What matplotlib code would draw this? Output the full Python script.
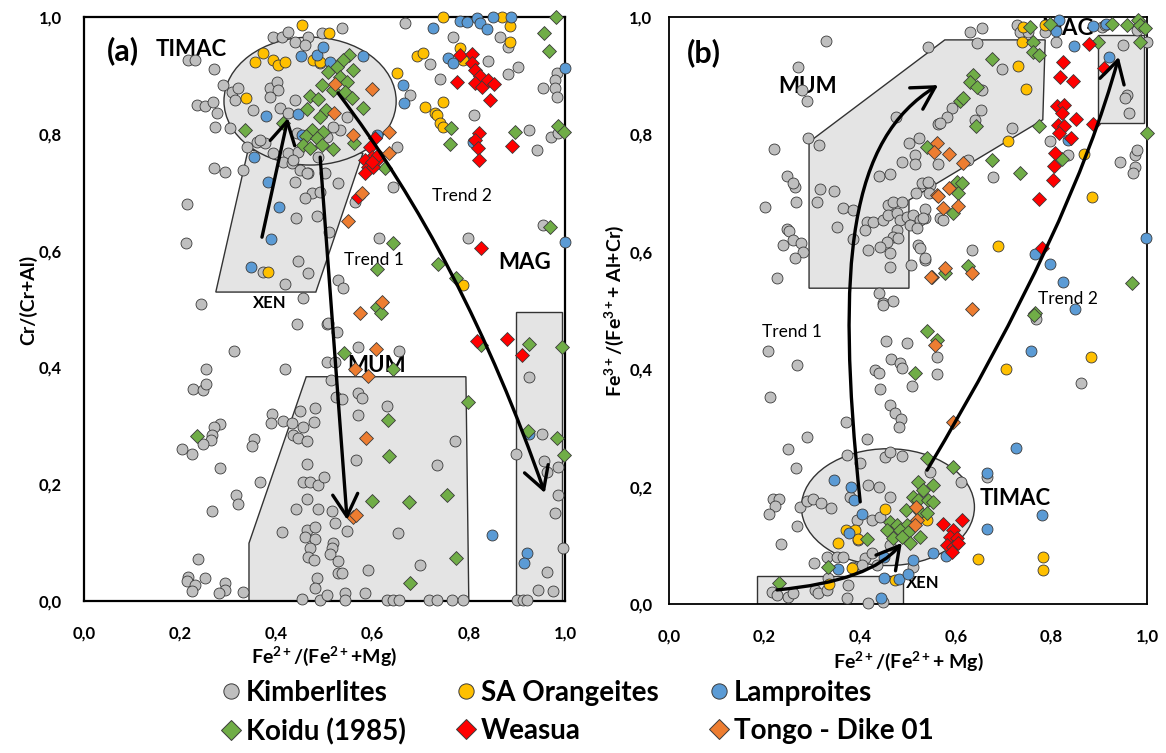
import matplotlib
matplotlib.use("Agg")
import matplotlib.pyplot as plt
import numpy as np
from matplotlib.patches import Ellipse, Polygon, Rectangle, FancyArrowPatch
from matplotlib.path import Path
from matplotlib.lines import Line2D
from matplotlib.ticker import FuncFormatter

plt.rcParams["font.family"] = ["Lato", "DejaVu Sans"]
plt.rcParams["font.weight"] = "bold"
plt.rcParams["mathtext.fontset"] = "custom"
plt.rcParams["mathtext.rm"] = "Lato:bold"
plt.rcParams["mathtext.it"] = "Lato:bold"
plt.rcParams["mathtext.bf"] = "Lato:bold"

# ---------------- data : panel (a)  Cr/(Cr+Al) vs Fe2+/(Fe2+ + Mg)
kimb_a = [
    (0.393, 0.966), (0.412, 0.966), (0.424, 0.974), (0.439, 0.957), (0.466, 0.966), (0.495, 0.973),
    (0.216, 0.926), (0.231, 0.926), (0.270, 0.911), (0.289, 0.884), (0.308, 0.872), (0.320, 0.878),
    (0.314, 0.858), (0.387, 0.878), (0.401, 0.889), (0.403, 0.875), (0.387, 0.863), (0.235, 0.849),
    (0.252, 0.848), (0.268, 0.854), (0.277, 0.836), (0.272, 0.812), (0.304, 0.810), (0.351, 0.841),
    (0.407, 0.844), (0.339, 0.777), (0.360, 0.786), (0.376, 0.784), (0.393, 0.767), (0.424, 0.767),
    (0.445, 0.769), (0.414, 0.752), (0.432, 0.750), (0.449, 0.738), (0.466, 0.733), (0.270, 0.741),
    (0.293, 0.735), (0.331, 0.738), (0.439, 0.717), (0.474, 0.699), (0.491, 0.700), (0.459, 0.690),
    (0.214, 0.680), (0.441, 0.656), (0.484, 0.659), (0.212, 0.613), (0.445, 0.582), (0.466, 0.562),
    (0.372, 0.563), (0.418, 0.543), (0.455, 0.519), (0.243, 0.509),
    (0.667, 0.990), (0.536, 0.981), (0.719, 0.920), (0.678, 0.866), (0.651, 0.777), (0.642, 0.709),
    (0.528, 0.716), (0.547, 0.829), (0.439, 0.858), (0.491, 0.921), (0.459, 0.952), (0.424, 0.836),
    (0.443, 0.801), (0.435, 0.755), (0.486, 0.760), (0.505, 0.795), (0.532, 0.807), (0.518, 0.812),
    (0.501, 0.733), (0.464, 0.733), (0.366, 0.789),
    (0.767, 0.966), (0.865, 0.966), (0.881, 0.949), (0.840, 0.925), (0.740, 0.894), (0.881, 0.902),
    (0.902, 0.914), (0.983, 0.904), (0.979, 0.892), (0.979, 0.878), (0.983, 0.863), (0.954, 0.878),
    (0.811, 0.832), (0.925, 0.807), (0.971, 0.795), (0.985, 0.801), (0.942, 0.772), (0.563, 0.683),
    (0.509, 0.632), (0.613, 0.622), (0.798, 0.622), (0.954, 0.644), (0.528, 0.550), (0.538, 0.536),
    (0.443, 0.474), (0.505, 0.474), (0.312, 0.428), (0.418, 0.397), (0.254, 0.397), (0.505, 0.409),
    (0.227, 0.363), (0.247, 0.361), (0.254, 0.372), (0.391, 0.320), (0.389, 0.305), (0.414, 0.308),
    (0.432, 0.305), (0.449, 0.325), (0.480, 0.330), (0.478, 0.307), (0.455, 0.298), (0.435, 0.284),
    (0.445, 0.279), (0.464, 0.274), (0.283, 0.303), (0.270, 0.298), (0.266, 0.284), (0.264, 0.276),
    (0.247, 0.269), (0.204, 0.260), (0.225, 0.252), (0.353, 0.277), (0.349, 0.265), (0.283, 0.228),
    (0.464, 0.235), (0.366, 0.204), (0.455, 0.204), (0.470, 0.204), (0.486, 0.199), (0.499, 0.212),
    (0.316, 0.182), (0.320, 0.166), (0.464, 0.175), (0.441, 0.158), (0.486, 0.158), (0.266, 0.154),
    (0.412, 0.118), (0.464, 0.122), (0.480, 0.127), (0.459, 0.110), (0.480, 0.106), (0.470, 0.091),
    (0.466, 0.075), (0.478, 0.070), (0.237, 0.072), (0.216, 0.041), (0.214, 0.034), (0.231, 0.027),
    (0.225, 0.017), (0.252, 0.039), (0.293, 0.031), (0.293, 0.019), (0.281, 0.014), (0.331, 0.015),
    (0.484, 0.039), (0.480, 0.022), (0.453, 0.003), (0.491, 0.002), (0.505, 0.010),
    (0.507, 0.476), (0.526, 0.461), (0.570, 0.435), (0.655, 0.428), (0.522, 0.409), (0.514, 0.378),
    (0.524, 0.349), (0.536, 0.346), (0.570, 0.356), (0.578, 0.348), (0.630, 0.334), (0.570, 0.318),
    (0.771, 0.274), (0.565, 0.241), (0.734, 0.233), (0.516, 0.154), (0.522, 0.134), (0.547, 0.120),
    (0.653, 0.116), (0.518, 0.099), (0.516, 0.091), (0.511, 0.080), (0.528, 0.068), (0.528, 0.048),
    (0.536, 0.048), (0.590, 0.053), (0.699, 0.062), (0.584, 0.014), (0.543, 0.014), (0.543, 0.002),
    (0.630, 0.002), (0.642, 0.002), (0.655, 0.002), (0.717, 0.002), (0.734, 0.002), (0.765, 0.002),
    (0.788, 0.002), (0.900, 0.002), (0.913, 0.002), (0.921, 0.002),
    (0.925, 0.384), (0.952, 0.286), (0.898, 0.252), (0.956, 0.240), (0.963, 0.221), (0.985, 0.229),
    (0.985, 0.182), (0.979, 0.151), (0.996, 0.091), (0.963, 0.050), (0.944, 0.019), (0.975, 0.017),
]
sa_a = [
    (0.453, 0.986), (0.356, 0.923), (0.372, 0.938), (0.393, 0.926), (0.403, 0.918), (0.418, 0.923),
    (0.476, 0.926), (0.491, 0.923), (0.337, 0.861), (0.383, 0.563), (0.509, 0.973), (0.692, 0.933),
    (0.705, 0.938), (0.651, 0.904), (0.709, 0.846), (0.730, 0.836), (0.746, 1.000), (0.869, 1.000),
    (0.886, 0.985), (0.886, 0.957), (0.782, 0.947), (0.788, 0.926), (0.746, 0.854), (0.734, 0.832),
    (0.740, 0.818), (0.746, 0.812), (0.788, 0.541),
]
lamp_a = [
    (0.451, 0.933), (0.484, 0.935), (0.378, 0.830), (0.445, 0.834), (0.453, 0.798), (0.353, 0.760),
    (0.383, 0.717), (0.405, 0.675), (0.389, 0.620), (0.347, 0.572), (0.580, 0.933), (0.726, 0.981),
    (0.497, 0.949), (0.511, 0.923), (0.663, 0.884), (0.665, 0.853), (0.609, 0.798), (0.782, 0.993),
    (0.796, 0.991), (0.817, 0.998), (0.823, 0.990), (0.838, 0.979), (0.850, 1.000), (0.888, 1.000),
    (0.757, 0.930), (0.767, 0.921), (1.000, 0.913), (1.000, 0.615), (0.809, 0.786), (0.925, 0.286),
    (0.848, 0.113), (0.921, 0.082), (0.915, 0.065),
]
koidu_a = [
    (0.551, 0.935), (0.538, 0.926), (0.526, 0.914), (0.507, 0.906), (0.559, 0.909), (0.532, 0.897),
    (0.547, 0.889), (0.495, 0.884), (0.518, 0.875), (0.543, 0.872), (0.557, 0.861), (0.580, 0.844),
    (0.470, 0.865), (0.486, 0.860), (0.464, 0.842), (0.503, 0.841), (0.491, 0.829), (0.414, 0.818),
    (0.335, 0.807), (0.474, 0.807), (0.497, 0.803), (0.462, 0.796), (0.484, 0.793), (0.455, 0.781),
    (0.495, 0.781), (0.470, 0.776), (0.518, 0.774), (0.561, 0.784), (0.626, 0.741),
    (0.981, 1.000), (0.956, 0.973), (0.967, 0.942), (0.985, 0.813), (0.998, 0.803), (0.896, 0.803),
    (0.761, 0.783), (0.763, 0.810), (0.642, 0.613), (0.736, 0.577), (0.773, 0.553), (0.969, 0.640),
    (0.609, 0.568), (0.609, 0.503), (0.617, 0.493), (0.235, 0.283),
    (0.541, 0.425), (0.642, 0.397), (0.798, 0.341), (0.632, 0.310), (0.634, 0.248), (0.599, 0.171),
    (0.676, 0.170), (0.755, 0.182), (0.773, 0.074), (0.678, 0.031), (0.925, 0.440), (0.994, 0.435),
    (0.923, 0.291), (0.983, 0.279), (0.998, 0.250), (0.825, 0.438),
]
weasua_a = [
    (0.605, 0.793), (0.595, 0.777), (0.599, 0.760), (0.609, 0.755), (0.584, 0.755), (0.590, 0.743),
    (0.601, 0.743), (0.584, 0.733), (0.611, 0.764), (0.599, 0.752), (0.570, 0.692),
    (0.782, 0.935), (0.807, 0.937), (0.807, 0.921), (0.813, 0.909), (0.823, 0.899), (0.813, 0.887),
    (0.827, 0.880), (0.840, 0.892), (0.852, 0.885), (0.775, 0.889), (0.844, 0.858), (0.821, 0.801),
    (0.813, 0.789), (0.819, 0.776), (0.821, 0.755), (0.890, 0.779), (0.825, 0.604), (0.817, 0.445),
    (0.879, 0.449), (0.911, 0.421),
]
tongo_a = [
    (0.522, 0.885), (0.599, 0.877), (0.520, 0.836), (0.559, 0.798), (0.634, 0.803), (0.634, 0.767),
    (0.578, 0.699), (0.549, 0.651), (0.620, 0.512), (0.574, 0.493), (0.607, 0.431), (0.563, 0.397),
    (0.590, 0.385), (0.586, 0.279), (0.559, 0.144), (0.565, 0.147),
]

# ---------------- data : panel (b)  Fe3+/(Fe3+ + Al + Cr) vs Fe2+/(Fe2+ + Mg)
kimb_b = [
    (0.328, 0.959), (0.270, 0.915), (0.278, 0.876), (0.289, 0.857), (0.220, 0.775), (0.291, 0.794),
    (0.314, 0.782), (0.247, 0.729), (0.264, 0.710), (0.259, 0.717), (0.316, 0.707), (0.345, 0.704),
    (0.201, 0.676), (0.266, 0.685), (0.310, 0.685), (0.364, 0.675), (0.385, 0.671), (0.351, 0.642),
    (0.247, 0.639), (0.251, 0.635), (0.238, 0.612), (0.259, 0.620), (0.276, 0.615), (0.280, 0.600),
    (0.264, 0.589), (0.226, 0.555), (0.385, 0.622), (0.439, 0.729), (0.462, 0.733), (0.487, 0.753),
    (0.475, 0.830), (0.502, 0.785), (0.523, 0.794), (0.515, 0.765), (0.515, 0.750), (0.542, 0.949),
    (0.563, 0.818), (0.563, 0.750),
    (0.414, 0.651), (0.427, 0.651), (0.410, 0.637), (0.448, 0.654), (0.458, 0.680), (0.469, 0.685),
    (0.487, 0.685), (0.458, 0.663), (0.477, 0.666), (0.483, 0.654), (0.498, 0.659), (0.510, 0.663),
    (0.525, 0.654), (0.536, 0.658), (0.504, 0.646), (0.519, 0.641), (0.477, 0.637), (0.469, 0.625),
    (0.479, 0.624), (0.456, 0.617), (0.441, 0.608), (0.416, 0.603), (0.462, 0.598), (0.462, 0.574),
    (0.506, 0.578), (0.521, 0.612), (0.525, 0.606), (0.536, 0.586), (0.529, 0.717), (0.546, 0.714),
    (0.517, 0.700), (0.544, 0.700), (0.439, 0.530), (0.448, 0.513), (0.469, 0.516), (0.567, 0.658),
    (0.630, 0.974), (0.655, 0.981), (0.644, 0.956), (0.697, 0.911), (0.655, 0.876), (0.653, 0.842),
    (0.592, 0.845), (0.582, 0.830), (0.567, 0.819), (0.640, 0.825), (0.718, 0.811), (0.797, 0.789),
    (0.835, 0.765), (0.944, 0.753), (0.975, 0.765), (0.979, 0.773), (0.975, 0.745), (0.971, 0.734),
    (0.678, 0.727), (0.626, 0.756), (0.542, 0.719), (0.536, 0.673), (0.531, 0.658), (0.573, 0.654),
    (0.634, 0.603), (0.536, 0.589), (0.810, 0.957), (0.728, 0.986), (0.734, 0.974), (0.751, 0.974),
    (0.787, 0.974), (0.801, 0.986), (0.906, 0.983), (0.912, 0.986), (0.950, 0.952), (0.958, 0.867),
    (0.954, 0.862), (0.962, 0.836), (0.979, 0.978), (1.000, 0.957),
    (0.448, 0.509), (0.454, 0.448), (0.498, 0.445), (0.561, 0.421), (0.207, 0.431), (0.268, 0.407),
    (0.211, 0.353), (0.464, 0.417), (0.483, 0.411), (0.487, 0.402), (0.431, 0.399), (0.439, 0.394),
    (0.508, 0.371), (0.441, 0.366), (0.462, 0.339), (0.473, 0.325), (0.485, 0.315), (0.481, 0.302),
    (0.370, 0.310), (0.289, 0.285), (0.414, 0.281), (0.249, 0.264), (0.266, 0.232),
    (0.372, 0.254), (0.452, 0.250), (0.462, 0.259), (0.487, 0.252), (0.218, 0.179), (0.230, 0.179),
    (0.222, 0.167), (0.209, 0.153), (0.274, 0.165), (0.289, 0.175), (0.301, 0.179), (0.318, 0.172),
    (0.339, 0.164), (0.268, 0.133), (0.234, 0.102), (0.303, 0.070), (0.331, 0.080), (0.351, 0.080),
    (0.364, 0.080), (0.393, 0.143), (0.416, 0.203), (0.439, 0.200), (0.462, 0.182), (0.425, 0.143),
    (0.441, 0.148), (0.395, 0.109), (0.410, 0.078), (0.425, 0.087), (0.435, 0.066), (0.385, 0.063),
    (0.404, 0.066), (0.462, 0.101), (0.400, 0.240), (0.379, 0.182),
    (0.215, 0.020), (0.226, 0.015), (0.249, 0.012), (0.259, 0.019), (0.305, 0.024), (0.312, 0.019),
    (0.331, 0.024), (0.333, 0.044), (0.372, 0.010), (0.374, 0.032), (0.416, 0.002), (0.448, 0.003),
    (0.510, 0.063),
    (0.561, 0.392), (0.768, 0.486), (0.862, 0.376), (0.546, 0.225), (0.611, 0.208), (0.665, 0.216),
]
sa_b = [
    (0.738, 0.957), (0.741, 0.983), (0.787, 0.986), (0.730, 0.917), (0.747, 0.877), (0.709, 0.789),
    (0.868, 0.767), (0.885, 0.693), (0.688, 0.610), (0.452, 0.162), (0.370, 0.126), (0.389, 0.126),
    (0.395, 0.111), (0.354, 0.104), (0.383, 0.061), (0.335, 0.034), (0.473, 0.041), (0.540, 0.143),
    (0.705, 0.400), (0.883, 0.421), (0.646, 0.077), (0.782, 0.080), (0.782, 0.058),
]
lamp_b = [
    (0.816, 0.995), (0.810, 0.976), (0.887, 0.985), (0.914, 0.988), (0.847, 0.951), (0.920, 0.932),
    (0.835, 0.790), (0.766, 0.596), (0.797, 0.579), (0.824, 0.549), (0.849, 0.503), (0.998, 0.624),
    (0.345, 0.211), (0.381, 0.200), (0.387, 0.177), (0.404, 0.153), (0.377, 0.121), (0.354, 0.060),
    (0.450, 0.080), (0.450, 0.044), (0.481, 0.043), (0.500, 0.051), (0.510, 0.075), (0.444, 0.010),
    (0.552, 0.087), (0.757, 0.431), (0.726, 0.266), (0.665, 0.223), (0.780, 0.152), (0.665, 0.128),
    (0.579, 0.082),
]
koidu_b = [
    (0.540, 0.779), (0.755, 0.983), (0.797, 0.988), (0.927, 0.988), (0.958, 0.986), (0.981, 0.995),
    (0.985, 0.986), (0.996, 0.981), (0.897, 0.957), (0.985, 0.957), (0.762, 0.957), (0.762, 0.940),
    (0.774, 0.935), (0.676, 0.928), (0.636, 0.901), (0.630, 0.889), (0.644, 0.881), (0.609, 0.857),
    (0.615, 0.862), (0.642, 0.814), (0.774, 0.814), (0.676, 0.756), (0.734, 0.734), (0.822, 0.758),
    (0.603, 0.719), (0.613, 0.717), (0.605, 0.700), (0.594, 0.666), (1.000, 0.802), (0.626, 0.576),
    (0.577, 0.564), (0.969, 0.547), (0.766, 0.496),
    (0.540, 0.465), (0.515, 0.394), (0.414, 0.111), (0.333, 0.063), (0.230, 0.036), (0.540, 0.249),
    (0.521, 0.208), (0.552, 0.203), (0.531, 0.194), (0.510, 0.182), (0.521, 0.177), (0.542, 0.177),
    (0.552, 0.174), (0.496, 0.160), (0.525, 0.157), (0.540, 0.155), (0.462, 0.140), (0.477, 0.135),
    (0.498, 0.135), (0.456, 0.126), (0.483, 0.126), (0.500, 0.123), (0.469, 0.112), (0.504, 0.104),
    (0.525, 0.114), (0.487, 0.114), (0.561, 0.450), (0.764, 0.492), (0.594, 0.233),
]
weasua_b = [
    (0.879, 0.954), (0.824, 0.923), (0.818, 0.898), (0.845, 0.891), (0.812, 0.848), (0.826, 0.850),
    (0.822, 0.836), (0.851, 0.826), (0.814, 0.816), (0.826, 0.814), (0.816, 0.802), (0.841, 0.794),
    (0.887, 0.818), (0.910, 0.913), (0.808, 0.768), (0.805, 0.746), (0.803, 0.722), (0.774, 0.690),
    (0.780, 0.606),
    (0.573, 0.136), (0.613, 0.143), (0.594, 0.126), (0.588, 0.114), (0.602, 0.112), (0.582, 0.101),
    (0.594, 0.097), (0.605, 0.104), (0.592, 0.089),
]
tongo_b = [
    (0.561, 0.785), (0.554, 0.770), (0.561, 0.697), (0.550, 0.557), (0.586, 0.767), (0.615, 0.751),
    (0.586, 0.709), (0.563, 0.695), (0.605, 0.678), (0.573, 0.675), (0.577, 0.572), (0.548, 0.557),
    (0.634, 0.564), (0.634, 0.503), (0.556, 0.441), (0.517, 0.165), (0.519, 0.143), (0.515, 0.135),
    (0.594, 0.310),
]

labels = ["Kimberlites", "SA Orangeites", "Lamproites", "Koidu (1985)", "Weasua", "Tongo - Dike 01"]
markers = ["o", "o", "o", "D", "D", "D"]
colors = ["#bfbfbf", "#ffc000", "#5b9bd5", "#70ad47", "#ff0000", "#ed7d31"]
panel_a = [kimb_a, sa_a, lamp_a, koidu_a, weasua_a, tongo_a]
panel_b = [kimb_b, sa_b, lamp_b, koidu_b, weasua_b, tongo_b]

# field outlines
xen_a = [(0.274, 0.529), (0.482, 0.529), (0.580, 0.767), (0.341, 0.772)]
mum_a = [(0.343, 0.0), (0.343, 0.099), (0.462, 0.384), (0.794, 0.384), (0.800, 0.0)]
mum_b = [(0.293, 0.538), (0.502, 0.538), (0.502, 0.688), (0.782, 0.825), (0.787, 0.961),
         (0.577, 0.961), (0.293, 0.787)]

FILL = "#e4e4e4"
EDGE = "#333333"


def fmt(v, pos):
    return f"{v:.1f}".replace(".", ",")


def arrow(ax, pts, kind):
    codes = {"line": [Path.MOVETO, Path.LINETO],
             "quad": [Path.MOVETO, Path.CURVE3, Path.CURVE3],
             "cubic": [Path.MOVETO, Path.CURVE4, Path.CURVE4, Path.CURVE4]}[kind]
    p = FancyArrowPatch(path=Path(pts, codes), arrowstyle="->,head_length=0.8,head_width=0.45",
                        mutation_scale=20, lw=2.4, color="black", zorder=6)
    ax.add_patch(p)


def setup(ax, ylabel, xlabel, ypad, spine_lw):
    ax.set_xlim(0, 1)
    ax.set_ylim(0, 1)
    ax.set_xticks(np.arange(0, 1.01, 0.2))
    ax.set_yticks(np.arange(0, 1.01, 0.2))
    ax.xaxis.set_major_formatter(FuncFormatter(fmt))
    ax.yaxis.set_major_formatter(FuncFormatter(fmt))
    ax.tick_params(length=0, labelsize=12, pad=18)
    ax.tick_params(axis="y", pad=ypad)
    for s in ax.spines.values():
        s.set_linewidth(spine_lw)
        s.set_color("black")
    ax.set_xlabel(xlabel, fontsize=14, fontweight="bold")
    ax.set_ylabel(ylabel, fontsize=14, fontweight="bold")


def scatter(ax, data):
    for pts, m, c in zip(data, markers, colors):
        arr = np.array(pts)
        ax.scatter(arr[:, 0], arr[:, 1], marker=m, s=62 if m == "o" else 50, c=c,
                   edgecolors="#3a3a3a", linewidths=0.6, zorder=4, clip_on=False)


fig = plt.figure(figsize=(11.66, 7.53), dpi=100)
ax1 = fig.add_axes([84 / 1166, 1 - 601 / 753, 481 / 1166, 584 / 753])
ax2 = fig.add_axes([669 / 1166, 1 - 604 / 753, 478 / 1166, 587 / 753])

# ---- panel (a)
ax1.add_patch(Polygon(xen_a, closed=True, fc=FILL, ec=EDGE, lw=1.0, zorder=1))
ax1.add_patch(Polygon(mum_a, closed=True, fc=FILL, ec=EDGE, lw=1.0, zorder=1))
ax1.add_patch(Rectangle((0.898, 0.0), 0.096, 0.495, fc=FILL, ec=EDGE, lw=1.0, zorder=1))
ax1.add_patch(Ellipse((0.470, 0.856), 0.358, 0.219, fc=FILL, ec=EDGE, lw=1.0, zorder=1.5))
scatter(ax1, panel_a)
arrow(ax1, [(0.370, 0.623), (0.424, 0.827)], "line")
arrow(ax1, [(0.491, 0.760), (0.547, 0.139)], "line")
arrow(ax1, [(0.528, 0.870), (0.787, 0.589), (0.958, 0.185)], "quad")
setup(ax1, "Cr/(Cr+Al)", r"Fe$^{2+}$/(Fe$^{2+}$+Mg)", 16, 1.6)
ax1.xaxis.set_label_coords(0.5, -0.075)
ax1.yaxis.set_label_coords(-0.098, 0.515)

txt = dict(fontweight="bold", ha="center", va="center", zorder=3)
trend = dict(fontweight="normal", fontsize=12.5, ha="center", va="center", zorder=3)
ax1.text(0.081, 0.942, "(a)", fontsize=22, **txt)
ax1.text(0.222, 0.944, "TIMAC", fontsize=16, **txt)
ax1.text(0.387, 0.510, "XEN", fontsize=12, **txt)
ax1.text(0.609, 0.404, "MUM", fontsize=16, **txt)
ax1.text(0.917, 0.579, "MAG", fontsize=16, **txt)
ax1.text(0.603, 0.584, "Trend 1", **trend)
ax1.text(0.786, 0.693, "Trend 2", **trend)

# ---- panel (b)
ax2.add_patch(Polygon(mum_b, closed=True, fc=FILL, ec=EDGE, lw=1.0, zorder=1))
ax2.add_patch(Rectangle((0.184, 0.0), 0.306, 0.048, fc=FILL, ec=EDGE, lw=1.0, zorder=1))
ax2.add_patch(Rectangle((0.897, 0.819), 0.097, 0.15, fc=FILL, ec=EDGE, lw=1.0, zorder=1))
ax2.add_patch(Ellipse((0.458, 0.165), 0.362, 0.199, fc=FILL, ec=EDGE, lw=1.0, zorder=1.5))
scatter(ax2, panel_b)
arrow(ax2, [(0.400, 0.174), (0.347, 0.586), (0.379, 0.792), (0.563, 0.884)], "cubic")
arrow(ax2, [(0.226, 0.024), (0.423, 0.039), (0.487, 0.104)], "quad")
arrow(ax2, [(0.540, 0.228), (0.843, 0.641), (0.941, 0.932)], "quad")
setup(ax2, r"Fe$^{3+}$/(Fe$^{3+}$+ Al+Cr)", r"Fe$^{2+}$/(Fe$^{2+}$+ Mg)", 12, 1.3)
ax2.xaxis.set_label_coords(0.5, -0.078)
ax2.yaxis.set_label_coords(-0.09, 0.50)

ax2.text(0.073, 0.940, "(b)", fontsize=22, **txt)
ax2.text(0.289, 0.881, "MUM", fontsize=16, **txt)
ax2.text(0.724, 0.179, "TIMAC", fontsize=16, **txt)
ax2.text(0.531, 0.036, "XEN", fontsize=12, **txt)
ax2.text(0.833, 0.981, "MAG", fontsize=16, **txt)
ax2.text(0.257, 0.463, "Trend 1", **trend)
ax2.text(0.835, 0.520, "Trend 2", **trend)

# ---- legend
handles = []
for lab, m, c in zip(labels, markers, colors):
    handles.append(Line2D([], [], ls="", marker=m, markerfacecolor=c, markeredgecolor="#3a3a3a",
                          markeredgewidth=0.7, markersize=11 if m == "o" else 10, label=lab))
order = [0, 3, 1, 4, 2, 5]
fig.legend([handles[i] for i in order], [labels[i] for i in order], ncol=3, loc="center",
           bbox_to_anchor=(0.494, 0.054), frameon=False, prop=dict(weight="bold", size=20),
           handletextpad=0.1, columnspacing=1.7, labelspacing=0.45, handlelength=0.9)

fig.savefig("out.png", dpi=100)
